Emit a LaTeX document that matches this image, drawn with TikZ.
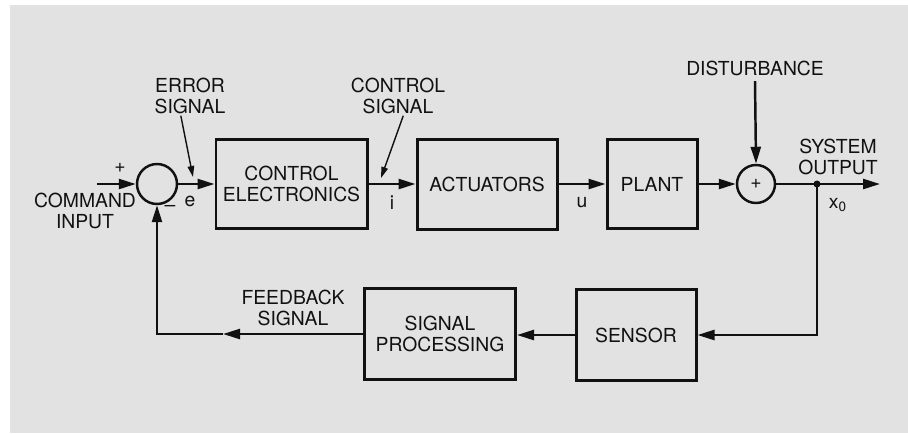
\documentclass[tikz,border=0pt]{standalone}
\usepackage{fontspec}
\setmainfont{TeX Gyre Heros}
\usetikzlibrary{arrows.meta,positioning}
\definecolor{scan}{HTML}{E2E2E2}
\definecolor{ink}{HTML}{111111}

\begin{document}
\begin{tikzpicture}[x=0.2mm,y=-0.2mm,
  every node/.style={font=\fontsize{11}{11.6}\selectfont,text=ink},
  blk/.style={draw=ink,line width=1.7pt,align=center,inner sep=2pt},
  sumpt/.style={draw=ink,circle,line width=1.4pt,inner sep=0pt},
  sig/.style={draw=ink,line width=1.4pt,-{Triangle[length=3.4mm,width=2mm]}},
  lead/.style={draw=ink,line width=0.8pt,-{Triangle[length=2.2mm,width=1.3mm]}},
  lbl/.style={align=center,inner sep=1pt}]
  \useasboundingbox (0,0) rectangle (908,433);
  \fill[scan] (10,5) rectangle (908,433);

  % forward path
  \node[sumpt,minimum size=8mm] (s1) at (157,184) {};
  \node[blk,minimum width=30.2mm,minimum height=17.8mm] (ce) at (291.5,184) {CONTROL\\ELECTRONICS};
  \node[blk,minimum width=28mm,minimum height=18mm] (act) at (487,184) {ACTUATORS};
  \node[blk,minimum width=18mm,minimum height=17.8mm] (plant) at (652,184) {PLANT};
  \node[sumpt,minimum size=7.6mm] (s2) at (756,184) {+};
  % feedback path
  \node[blk,minimum width=30.2mm,minimum height=18.2mm] (sp) at (440,334) {SIGNAL\\PROCESSING};
  \node[blk,minimum width=24mm,minimum height=18.2mm] (sens) at (636,335) {SENSOR};

  \coordinate (cmd) at (97,184);
  \coordinate (tap) at (817,184);
  \coordinate (out) at (880,184);
  \coordinate (fbc) at (157,334);
  \coordinate (fbm) at (223,334);
  \coordinate (snc) at (817,335);
  \coordinate (eTip) at (193,177);
  \coordinate (iTip) at (381,178);

  % labels
  \node[lbl] (cmdin) at (85,211) {COMMAND\\INPUT};
  \node (plus) at (120,168) {+};
  \node (minus) at (170,208) {--};
  \node (e) at (190,201) {e};
  \node (i) at (392,203) {i};
  \node (u) at (582,203) {u};
  \node (x0) at (838,205) {x\textsubscript{0}};
  \node[lbl] (err) at (190,96) {ERROR\\SIGNAL};
  \node[lbl] (ctl) at (398,96) {CONTROL\\SIGNAL};
  \node[lbl,inner sep=3pt] (dis) at (755,68) {DISTURBANCE};
  \node[lbl] (sysout) at (838,157) {SYSTEM\\OUTPUT};
  \node[lbl] (fb) at (293,308) {FEEDBACK\\SIGNAL};

  \draw[sig] (cmd) -- (s1.west);
  \draw[sig] (s1.east) -- (ce.west);
  \draw[sig] (ce.east) -- (act.west);
  \draw[sig] (act.east) -- (plant.west);
  \draw[sig] (plant.east) -- (s2.west);
  \draw[ink,line width=1.4pt] (s2.east) -- (tap);
  \draw[sig] (tap) -- (out);
  \fill[ink] (tap) circle (0.7mm);
  \draw[sig] (dis.south) -- (s2.north);
  \draw[sig] (tap) -- (snc) -- (sens.east);
  \draw[sig] (sens.west) -- (sens.west -| sp.east);
  \draw[sig] (sp.west) -- (fbm);
  \draw[sig] (fbm) -- (fbc) -- (s1.south);
  \draw[lead] (err.245) -- (eTip);
  \draw[lead] (ctl.285) -- (iTip);
\end{tikzpicture}
\end{document}
